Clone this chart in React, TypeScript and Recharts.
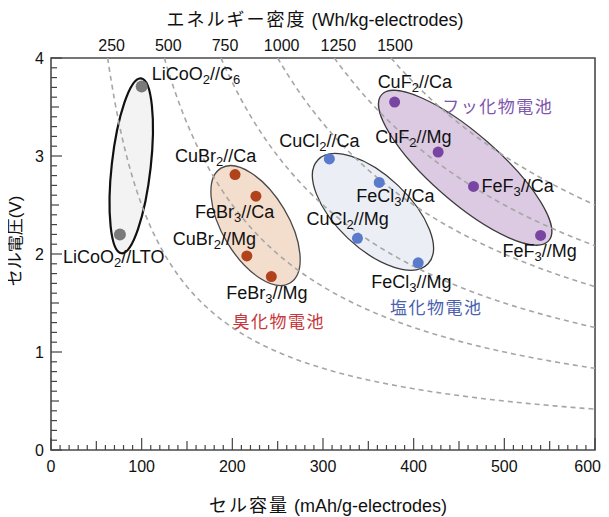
import React from "react";
import { ScatterChart, Scatter, XAxis, YAxis, ReferenceArea } from "recharts";

// cells: capacity (mAh/g-electrodes) vs cell voltage (V)
const CELL_NAMES = [
  "LiCoO_2//C_6", "LiCoO_2//LTO",
  "CuBr_2//Ca", "FeBr_3//Ca", "CuBr_2//Mg", "FeBr_3//Mg",
  "CuCl_2//Ca", "FeCl_3//Ca", "CuCl_2//Mg", "FeCl_3//Mg",
  "CuF_2//Ca", "CuF_2//Mg", "FeF_3//Ca", "FeF_3//Mg",
];
const CELL_CAPACITY = [100, 76, 203, 226, 216, 243, 307, 362, 338, 405, 379, 427, 466, 540];
const CELL_VOLTAGE = [3.71, 2.2, 2.81, 2.59, 1.98, 1.77, 2.97, 2.73, 2.16, 1.91, 3.55, 3.04, 2.69, 2.19];
const CELL_GROUP = ["li", "li", "br", "br", "br", "br", "cl", "cl", "cl", "cl", "f", "f", "f", "f"];

// group ellipses (centre in data units)
const GROUP_KEYS = ["li", "br", "cl", "f"];
const GROUP_NAMES = ["", "臭化物電池", "塩化物電池", "フッ化物電池"];
const GROUP_CAPACITY = [88.5, 225.6, 355.1, 456.8];
const GROUP_VOLTAGE = [2.9, 2.29, 2.43, 2.88];

// energy density contours (Wh/kg-electrodes)
const ENERGY_LEVELS = [250, 500, 750, 1000, 1250, 1500];
const Y_MAX = 4;
const X_MAX = 600;
const CURVE_Q = Array.from({ length: 121 }, (_, i) => i * 5);
const X_TICKS = Array.from({ length: 61 }, (_, i) => i * 10);
const Y_TICKS = Array.from({ length: 41 }, (_, i) => i / 10);

const LATIN = '"Liberation Sans", Arial, "Noto Sans CJK JP", sans-serif';
const CJK = '"Noto Sans CJK JP", "Liberation Sans", sans-serif';

const GROUP_STYLE: Record<string, any> = {
  li: { dot: "#7a7a7a", r: 6, fill: "#f3f3f3", stroke: "#111", sw: 2.2, rx: 88, ry: 19.5, rot: -83.6, text: "#000", tdx: 0, tdy: 0 },
  br: { dot: "#b0421c", r: 5.5, fill: "#f3ddcc", stroke: "#4a4a4a", sw: 1.3, rx: 67, ry: 33, rot: 59, text: "#c8373b", tdx: -23, tdy: 96 },
  cl: { dot: "#5a7acb", r: 5.5, fill: "#eceef6", stroke: "#3a3a3a", sw: 1.3, rx: 75.7, ry: 36.4, rot: 43.3, text: "#4a5fae", tdx: 17, tdy: 96 },
  f: { dot: "#7846a2", r: 5.5, fill: "#dccae2", stroke: "#3a3a3a", sw: 1.2, rx: 111, ry: 34.2, rot: 41.1, text: "#7d55ad", tdx: -23, tdy: -60.5 },
};

// label offsets from the dot, in px (left edge, vertical centre)
const LABEL_POS: Record<string, [number, number]> = {
  "LiCoO_2//C_6": [10, -12],
  "LiCoO_2//LTO": [-57, 23],
  "CuBr_2//Ca": [-60, -19],
  "FeBr_3//Ca": [-61, 16],
  "CuBr_2//Mg": [-74, -17],
  "FeBr_3//Mg": [-45, 16],
  "CuCl_2//Ca": [-50, -18],
  "FeCl_3//Ca": [-23, 14],
  "CuCl_2//Mg": [-51, -19],
  "FeCl_3//Mg": [-47, 19],
  "CuF_2//Ca": [-17, -20],
  "CuF_2//Mg": [-63, -15],
  "FeF_3//Ca": [8, 0],
  "FeF_3//Mg": [-38, 16],
};

const cells = CELL_NAMES.map((name, i) => ({ x: CELL_CAPACITY[i], y: CELL_VOLTAGE[i], name, group: CELL_GROUP[i] }));
const groups = GROUP_KEYS.map((key, i) => ({ x: GROUP_CAPACITY[i], y: GROUP_VOLTAGE[i], key, name: GROUP_NAMES[i] }));
const curves = ENERGY_LEVELS.map((e) => [
  { x: e / Y_MAX, y: Y_MAX },
  ...CURVE_Q.filter((q) => q > e / Y_MAX).map((q) => ({ x: q, y: e / q })),
]);

function renderName(name: string) {
  const parts = name.split(/_(\d)/);
  return parts.map((p, i) => {
    if (i % 2 === 1) return <tspan key={i} dy={4} fontSize={13}>{p}</tspan>;
    return <tspan key={i} dy={i > 0 ? -4 : 0}>{p}</tspan>;
  });
}

const EllipseShape = (props: any) => {
  const { cx, cy, payload } = props;
  const s = GROUP_STYLE[payload.key];
  return (
    <g>
      <ellipse cx={cx} cy={cy} rx={s.rx} ry={s.ry} transform={`rotate(${s.rot} ${cx} ${cy})`}
        fill={s.fill} stroke={s.stroke} strokeWidth={s.sw} />
      {payload.name ? (
        <text x={cx + s.tdx} y={cy + s.tdy + 6} fill={s.text} fontSize={17} letterSpacing={1.5} fontFamily={CJK}>
          {payload.name}
        </text>
      ) : null}
    </g>
  );
};

const CellShape = (props: any) => {
  const { cx, cy, payload } = props;
  const s = GROUP_STYLE[payload.group];
  const [dx, dy] = LABEL_POS[payload.name];
  return (
    <g>
      <circle cx={cx} cy={cy} r={s.r} fill={s.dot} />
      <text x={cx + dx} y={cy + dy + 6} fontSize={18} fill="#111" fontFamily={LATIN}>
        {renderName(payload.name)}
      </text>
    </g>
  );
};

const isStep = (v: number, step: number) => Math.abs(v / step - Math.round(v / step)) < 1e-6;

const BottomTick = (props: any) => {
  const { x, y, payload } = props;
  const v = payload.value;
  const len = isStep(v, 100) ? 12 : isStep(v, 50) ? 9 : 5;
  const last = v === X_MAX;
  return (
    <g>
      <line x1={x} x2={x} y1={y} y2={y - len} stroke="#444" strokeWidth={1.2} />
      {isStep(v, 100) ? (
        <text x={last ? x + 6 : x} y={y + 16} dy="0.35em" textAnchor={last ? "end" : "middle"} fontSize={16} fill="#111" fontFamily={LATIN}>{v}</text>
      ) : null}
    </g>
  );
};

const LeftTick = (props: any) => {
  const { x, y, payload } = props;
  const v = payload.value;
  const len = isStep(v, 1) ? 11 : isStep(v, 0.5) ? 8 : 6;
  return (
    <g>
      <line x1={x} x2={x + len} y1={y} y2={y} stroke="#444" strokeWidth={1.2} />
      {isStep(v, 1) ? (
        <text x={x - 7} y={y} dy="0.35em" textAnchor="end" fontSize={16} fill="#111" fontFamily={LATIN}>{Math.round(v)}</text>
      ) : null}
    </g>
  );
};

const TopTick = (props: any) => {
  const { x, y, payload } = props;
  return (
    <text x={x + 4} y={y - 13} dy="0.35em" textAnchor="middle" fontSize={16} fill="#111" fontFamily={LATIN}>
      {Math.round(payload.value * Y_MAX)}
    </text>
  );
};

export default function App() {
  return (
    <div style={{ position: "relative", width: 593, height: 509, background: "#fff" }}>
      <ScatterChart width={593} height={501} margin={{ top: 20, right: 6, bottom: 29, left: 0 }}>
        <XAxis xAxisId={0} type="number" dataKey="x" domain={[0, X_MAX]} ticks={X_TICKS} interval={0}
          axisLine={false} tickLine={false} tickSize={0} tickMargin={0} tick={<BottomTick />} height={30} />
        <XAxis xAxisId="top" orientation="top" type="number" dataKey="x" domain={[0, X_MAX]} ticks={ENERGY_LEVELS.map((e) => e / Y_MAX)}
          interval={0} axisLine={false} tickLine={false} tickSize={0} tickMargin={0} tick={<TopTick />} height={30} />
        <YAxis type="number" dataKey="y" domain={[0, Y_MAX]} ticks={Y_TICKS} interval={0} width={43}
          axisLine={false} tickLine={false} tickSize={0} tickMargin={0} tick={<LeftTick />} />
        <Scatter data={groups} shape={<EllipseShape />} isAnimationActive={false} />
        {curves.map((d, i) => (
          <Scatter key={ENERGY_LEVELS[i]} xAxisId="top" data={d} shape={() => <g />} isAnimationActive={false}
            line={{ stroke: "#a6a6a6", strokeWidth: 1.6, strokeDasharray: "5 4" }} lineType="joint" />
        ))}
        <Scatter data={cells} shape={<CellShape />} isAnimationActive={false} />
        <ReferenceArea x1={0} x2={X_MAX} y1={0} y2={Y_MAX} fill="none" stroke="#4a4a4a" strokeWidth={1.6} />
      </ScatterChart>
      <div style={{ position: "absolute", left: 0, width: 614, top: 0, textAlign: "center", fontSize: 18, color: "#111", fontFamily: LATIN, lineHeight: "20px", whiteSpace: "nowrap" }}>
        <span style={{ fontFamily: CJK, letterSpacing: 2 }}>エネルギー密度</span> (Wh/kg-electrodes)
      </div>
      <div style={{ position: "absolute", left: 0, width: 640, top: 486, textAlign: "center", fontSize: 18, color: "#111", fontFamily: LATIN, lineHeight: "20px", whiteSpace: "nowrap" }}>
        <span style={{ fontFamily: CJK, letterSpacing: 2 }}>セル容量</span> (mAh/g-electrodes)
      </div>
      <div style={{ position: "absolute", left: -43, top: 222, width: 100, textAlign: "center", fontSize: 17, color: "#111", fontFamily: LATIN, lineHeight: "20px", whiteSpace: "nowrap", transform: "rotate(-90deg)" }}>
        <span style={{ fontFamily: CJK }}>セル電圧</span>(V)
      </div>
    </div>
  );
}
